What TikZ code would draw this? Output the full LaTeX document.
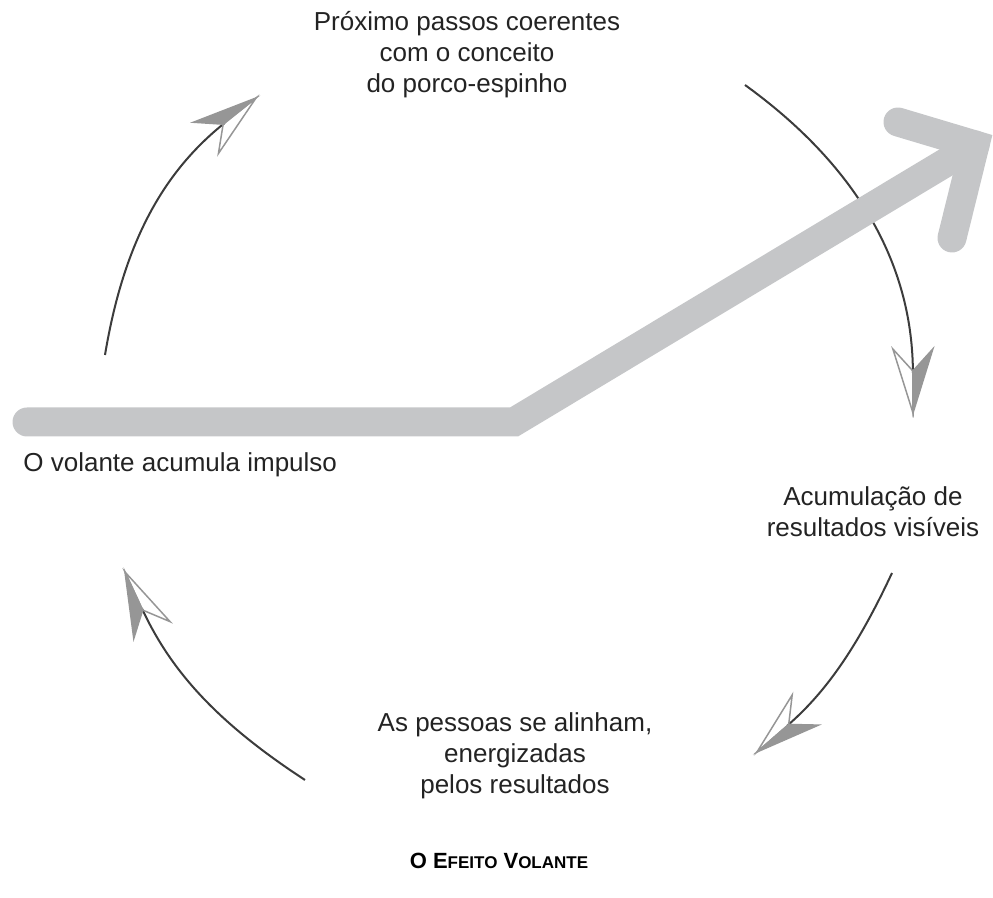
\documentclass[tikz,border=0pt]{standalone}
\usepackage{fontspec}
\setmainfont{Liberation Sans}

\definecolor{bandgray}{RGB}{197,198,200}
\definecolor{linegray}{RGB}{60,60,60}
\definecolor{headgray}{RGB}{150,150,150}
\definecolor{textgray}{RGB}{35,35,35}

% half filled, half open arrow head
\pgfdeclarearrow{
  name = HalfHead,
  setup code = {
    \pgfarrowssettipend{0pt}
    \pgfarrowssetbackend{-32pt}
    \pgfarrowssetlineend{-20pt}
    \pgfarrowshullpoint{0pt}{0pt}
    \pgfarrowshullpoint{-32pt}{10pt}
    \pgfarrowshullpoint{-32pt}{-10pt}
  },
  drawing code = {
    \pgfsetlinewidth{0.75pt}
    \pgfsetmiterjoin
    \pgfsetfillcolor{headgray}
    \pgfsetstrokecolor{headgray}
    \pgfpathmoveto{\pgfqpoint{0pt}{0pt}}
    \pgfpathlineto{\pgfqpoint{-32pt}{10pt}}
    \pgfpathlineto{\pgfqpoint{-21pt}{0pt}}
    \pgfpathclose
    \pgfusepathqfillstroke
    \pgfpathmoveto{\pgfqpoint{0pt}{0pt}}
    \pgfpathlineto{\pgfqpoint{-32pt}{-10pt}}
    \pgfpathlineto{\pgfqpoint{-21pt}{0pt}}
    \pgfpathclose
    \pgfusepathqstroke
  },
  cache = false,
}

\begin{document}
\begin{tikzpicture}[x=0.5pt,y=0.5pt,
    band/.style={draw=bandgray,line width=14.5pt,line cap=round,line join=miter},
    cyclearrow/.style={draw=linegray,line width=1pt,-HalfHead},
    lbl/.style={font=\fontsize{13}{15.5}\selectfont,text=textgray,align=center,inner sep=0pt}]
  \useasboundingbox (0,0) rectangle (993,898);

  % the four steps of the cycle
  \node[lbl] (steps) at (467,843) {Próximo passos coerentes\\com o conceito\\do porco-espinho};
  \node[lbl,anchor=base west] (momentum) at (23,426) {O volante acumula impulso};
  \node[lbl] (results) at (873,386) {Acumulação de\\resultados visíveis};
  \node[lbl] (people) at (515,142) {As pessoas se alinham,\\energizadas\\pelos resultados};
  \node[font=\bfseries\fontsize{11}{13}\selectfont,inner sep=0pt,anchor=base] (title) at (499,29)
    {O E{\fontsize{8.5}{10}\selectfont FEITO} V{\fontsize{8.5}{10}\selectfont OLANTE}};

  % arcs round the circle
  \coordinate (s1) at (105,543);
  \coordinate (t1) at (256,800);
  \coordinate (s2) at (745,813);
  \coordinate (t2) at (913,485);
  \coordinate (s3) at (892,325);
  \coordinate (t3) at (757,146);
  \coordinate (s4) at (305,118);
  \coordinate (t4) at (125,326);
  \draw[cyclearrow] (s1) to[bend left=21] (t1);
  \draw[cyclearrow] (s2) to[bend left=27] (t2);
  \draw[cyclearrow] (s3) to[bend left=12] (t3);
  \draw[cyclearrow] (s4) to[bend left=16] (t4);

  % big arrow
  \coordinate (start) at (27,476);
  \coordinate (knee) at (514,476);
  \coordinate (tip) at (975,753);
  \coordinate (barbup) at (898,776);
  \coordinate (barbdown) at (952,660);
  \draw[band] (start) -- (knee) -- (tip);
  \draw[band] (barbup) -- (tip) -- (barbdown);
\end{tikzpicture}
\end{document}
